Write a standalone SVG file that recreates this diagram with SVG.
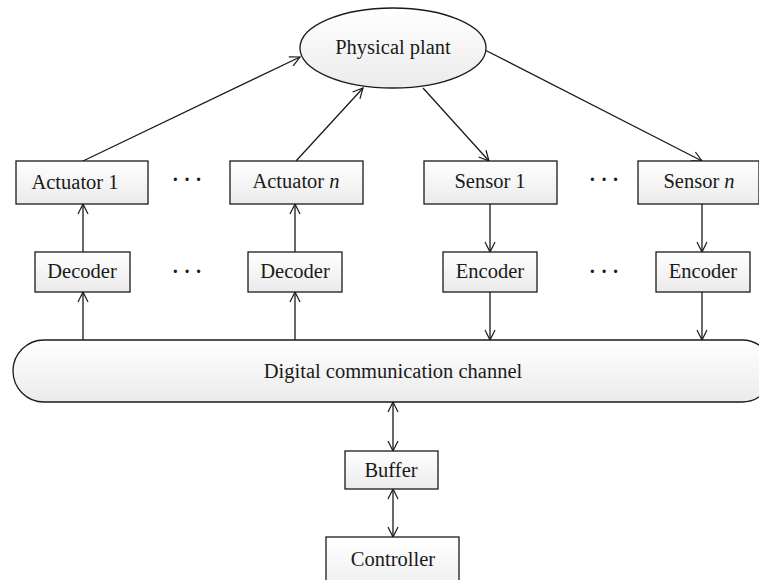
<svg xmlns="http://www.w3.org/2000/svg" width="759" height="580" viewBox="0 0 759 580">
  <defs>
    <linearGradient id="boxFill" x1="0" y1="0" x2="0" y2="1">
      <stop offset="0" stop-color="#ffffff"/>
      <stop offset="1" stop-color="#ebebeb"/>
    </linearGradient>
    <marker id="arrow" viewBox="0 0 12 12" refX="11" refY="6" markerWidth="12" markerHeight="12" markerUnits="userSpaceOnUse" orient="auto-start-reverse">
      <path d="M1,1 L11,6 L1,11" fill="none" stroke="#1a1a1a" stroke-width="1.2"/>
    </marker>
    <style>
      .box { fill: url(#boxFill); stroke: #1a1a1a; stroke-width: 1.3; }
      .lbl { font-family: "Liberation Serif", "Times New Roman", serif; font-size: 20.5px; fill: #1a1a1a; text-anchor: middle; }
      .dots { font-family: "Liberation Serif", serif; font-size: 20px; fill: #1a1a1a; text-anchor: middle; font-weight: bold; }
      .conn { stroke: #1a1a1a; stroke-width: 1.3; fill: none; marker-end: url(#arrow); }
      .both { marker-start: url(#arrow); }
    </style>
  </defs>

  <rect width="759" height="580" fill="#ffffff"/>

  <g id="connectors">
    <!-- actuators drive the plant -->
    <line class="conn" x1="83" y1="161" x2="300" y2="57"/>
    <line class="conn" x1="296" y1="161" x2="363" y2="88"/>
    <!-- plant is measured by sensors -->
    <line class="conn" x1="423" y1="88" x2="489" y2="161"/>
    <line class="conn" x1="485" y1="50" x2="702" y2="161"/>
    <!-- decoders feed actuators -->
    <line class="conn" x1="83" y1="252" x2="83" y2="204"/>
    <line class="conn" x1="295" y1="252" x2="295" y2="204"/>
    <!-- channel feeds decoders -->
    <line class="conn" x1="83" y1="340" x2="83" y2="292"/>
    <line class="conn" x1="295" y1="340" x2="295" y2="292"/>
    <!-- sensors feed encoders -->
    <line class="conn" x1="490" y1="204" x2="490" y2="252"/>
    <line class="conn" x1="702" y1="204" x2="702" y2="252"/>
    <!-- encoders feed channel -->
    <line class="conn" x1="490" y1="292" x2="490" y2="340"/>
    <line class="conn" x1="702" y1="292" x2="702" y2="340"/>
    <!-- channel / buffer / controller -->
    <line class="conn both" x1="393" y1="402" x2="393" y2="451"/>
    <line class="conn both" x1="393" y1="489" x2="393" y2="537"/>
  </g>

  <g id="plant">
    <ellipse class="box" cx="393" cy="48" rx="93" ry="40"/>
    <text class="lbl" x="393" y="54">Physical plant</text>
  </g>

  <g id="actuator1">
    <rect class="box" x="16" y="161" width="132" height="43"/>
    <text class="lbl" x="75" y="189">Actuator 1</text>
  </g>
  <g id="actuatorN">
    <rect class="box" x="230" y="161" width="133" height="43"/>
    <text class="lbl" x="296" y="188">Actuator <tspan font-style="italic">n</tspan></text>
  </g>
  <g id="sensor1">
    <rect class="box" x="424" y="161" width="133" height="43"/>
    <text class="lbl" x="490" y="188">Sensor 1</text>
  </g>
  <g id="sensorN">
    <rect class="box" x="638" y="161" width="121" height="43"/>
    <text class="lbl" x="699" y="188">Sensor <tspan font-style="italic">n</tspan></text>
  </g>

  <g id="decoder1">
    <rect class="box" x="35" y="252" width="95" height="40"/>
    <text class="lbl" x="82" y="278">Decoder</text>
  </g>
  <g id="decoderN">
    <rect class="box" x="248" y="252" width="94" height="40"/>
    <text class="lbl" x="295" y="278">Decoder</text>
  </g>
  <g id="encoder1">
    <rect class="box" x="443" y="252" width="94" height="40"/>
    <text class="lbl" x="490" y="278">Encoder</text>
  </g>
  <g id="encoderN">
    <rect class="box" x="656" y="252" width="94" height="40"/>
    <text class="lbl" x="703" y="278">Encoder</text>
  </g>

  <g id="ellipsis">
    <text class="dots" x="187" y="186">· · ·</text>
    <text class="dots" x="604" y="186">· · ·</text>
    <text class="dots" x="187" y="278">· · ·</text>
    <text class="dots" x="604" y="278">· · ·</text>
  </g>

  <g id="channel">
    <rect class="box" x="13" y="340" width="760" height="62" rx="31" ry="31"/>
    <text class="lbl" x="393" y="378">Digital communication channel</text>
  </g>

  <g id="buffer">
    <rect class="box" x="345" y="451" width="93" height="38"/>
    <text class="lbl" x="391" y="477">Buffer</text>
  </g>

  <g id="controller">
    <rect class="box" x="326" y="537" width="133" height="60"/>
    <text class="lbl" x="393" y="566">Controller</text>
  </g>
</svg>
